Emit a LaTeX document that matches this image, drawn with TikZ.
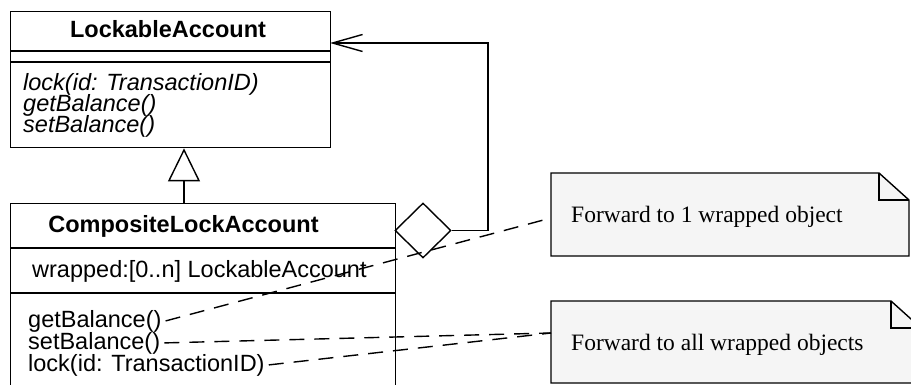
\documentclass[tikz,border=0pt]{standalone}
\usepackage{fontspec}
\setmainfont{Liberation Serif}
\setsansfont{Liberation Sans}
\usetikzlibrary{arrows.meta,shapes.geometric}

\tikzset{
    uml/.style={draw, line width=1.4pt},
    classbox/.style={uml, anchor=north west, inner sep=0pt},
    classname/.style={anchor=base, inner sep=0pt, font=\sffamily\bfseries\fontsize{23.5}{21}\selectfont},
    member/.style={anchor=base west, inner sep=0pt, font=\sffamily\fontsize{23.5}{21}\selectfont},
    notetext/.style={anchor=base west, inner sep=0pt, font=\rmfamily\fontsize{23.5}{21}\selectfont},
    trace/.style={line width=1.4pt, dash pattern=on 15pt off 10pt},
}

\begin{document}
\begin{tikzpicture}[x=1pt, y=-1pt]
    \clip (0,0) rectangle (911,385);
    \fill[white] (0,0) rectangle (911,385);

    % Abstract class
    \node[classbox, minimum width=320pt, minimum height=136pt] (lockable) at (10,11) {};
    \draw[uml] (10,51) -- (330,51) (10,62) -- (330,62);
    \node[classname] (lockname) at (168,37.5) {LockableAccount};
    \node[member, font=\sffamily\itshape\fontsize{23.5}{21}\selectfont] (locklock) at (23,90.5) {lock(id: TransactionID)};
    \node[member, font=\sffamily\itshape\fontsize{23.5}{21}\selectfont] (lockget) at (23,111.5) {getBalance()};
    \node[member, font=\sffamily\itshape\fontsize{23.5}{21}\selectfont] (lockset) at (23,132.5) {setBalance()};

    % Composite class
    \node[classbox, minimum width=385pt, minimum height=230pt] (composite) at (10,203) {};
    \draw[uml] (10,248) -- (395,248) (10,293) -- (395,293);
    \node[classname] (compname) at (183.5,233) {CompositeLockAccount};
    \node[member] (compwrap) at (32,277) {wrapped:[0..n] LockableAccount};
    \node[member] (compget) at (28,327) {getBalance()};
    \node[member] (compset) at (28,349) {setBalance()};
    \node[member] (complock) at (28,371) {lock(id: TransactionID)};

    % Notes
    \foreach \l/\t/\r/\b in {551/173/909/256, 551/301/921/383} {
        \filldraw[uml, fill=black!4] (\l,\t) -- (\r-30,\t) -- (\r,\t+27) -- (\r,\b) -- (\l,\b) -- cycle;
        \draw[uml] (\r-30,\t) |- (\r,\t+27);
    }
    \node[notetext] (fwdone) at (571,222.5) {Forward to 1 wrapped object};
    \node[notetext] (fwdall) at (571,350.5) {Forward to all wrapped objects};
    \coordinate (fwdonepin) at (551,218);
    \coordinate (fwdallpin) at (551,333);

    % Generalization
    \coordinate (genfoot) at (184,203);
    \draw[uml, -{Triangle[open, length=33pt, width=32pt, fill=white]}] (genfoot) -- (genfoot |- lockable.south);

    % Aggregation
    \node[uml, diamond, minimum width=56pt, minimum height=55pt, inner sep=0pt] (agg) at (423,230.5) {};
    \coordinate (lockpin) at (330,43);
    \draw[uml, -{Straight Barb[length=30pt, width=17pt]}] (agg.east) -- (488,230.5) |- (lockpin);

    % Forwarding traces
    \draw[trace] ([xshift=4pt]compget.east) -- (fwdonepin);
    \draw[trace] ([xshift=4pt]compset.east) -- (fwdallpin);
    \draw[trace] ([xshift=4pt]complock.east) -- (fwdallpin);
\end{tikzpicture}
\end{document}
